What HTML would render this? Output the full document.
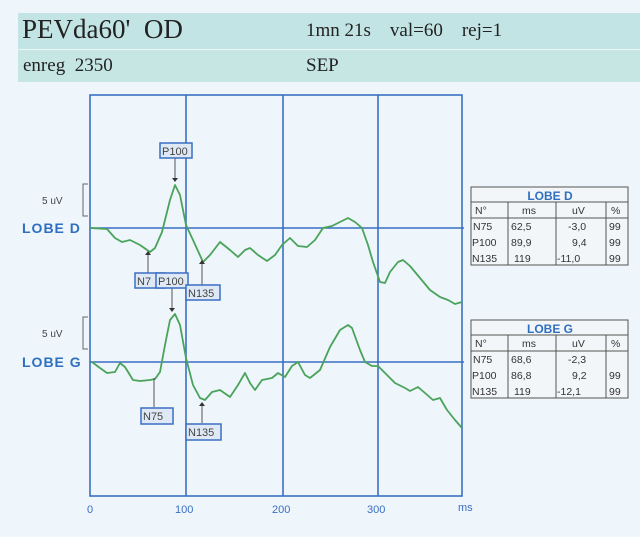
<!DOCTYPE html>
<html><head><meta charset="utf-8"><style>
html,body{margin:0;padding:0;background:#eef5fb;}
body{width:640px;height:537px;position:relative;overflow:hidden;font-family:"Liberation Serif",serif;}
.band{position:absolute;left:18px;width:622px;background:#bfe2e2;}
.t{position:absolute;color:#222;}
</style></head><body>
<div class="band" style="top:13px;height:36px;background:#c2e4e4"></div>
<div class="band" style="top:50px;height:32px;background:#c6e6e4"></div>
<div class="t" style="left:22px;top:14px;font-size:27px">PEVda60'&nbsp; OD</div>
<div class="t" style="left:306px;top:20px;font-size:19px">1mn 21s&nbsp;&nbsp;&nbsp; val=60&nbsp;&nbsp;&nbsp; rej=1</div>
<div class="t" style="left:23px;top:55px;font-size:19px">enreg&nbsp; 2350</div>
<div class="t" style="left:306px;top:55px;font-size:19px">SEP</div>
<svg width="640" height="537" style="position:absolute;left:0;top:0" font-family="Liberation Sans, sans-serif">
<g stroke="#3a6fc4" stroke-width="1.6" fill="none">
<rect x="90" y="95" width="372" height="401"/>
<line x1="186" y1="95" x2="186" y2="496"/><line x1="283" y1="95" x2="283" y2="496"/><line x1="378" y1="95" x2="378" y2="496"/>
<line x1="90" y1="228" x2="464" y2="228"/><line x1="90" y1="362" x2="464" y2="362"/>
</g>
<g fill="#3a6fc4" font-size="11"><text x="87" y="513">0</text><text x="175" y="513">100</text><text x="272" y="513">200</text><text x="367" y="513">300</text><text x="458" y="511">ms</text></g>
<g fill="#2f6fc0" font-size="14" font-weight="bold" letter-spacing="1"><text x="22" y="233">LOBE D</text><text x="22" y="367">LOBE G</text></g>
<g fill="#444" font-size="10"><text x="42" y="204">5 uV</text><text x="42" y="337">5 uV</text></g>
<g stroke="#666" fill="none" stroke-width="1"><path d="M88 184H83V216H88"/><path d="M88 317H83V349H88"/></g>
<g fill="none" stroke="#4aa35a" stroke-width="1.8" stroke-linejoin="round">
<polyline points="90,228 107,229 115,238 122,242 130,240 140,245 150,252 155,248 162,232 170,200 175,185 180,195 186,225 193,240 203,262 210,255 220,242 230,250 238,257 245,250 250,248 258,255 267,261 275,255 282,245 290,238 298,246 307,247 315,240 323,228 332,226 340,222 348,218 355,222 362,228 368,245 373,262 380,282 385,283 390,272 398,262 403,260 410,266 420,278 430,290 440,297 448,300 455,304 462,302"/>
<polyline points="92,362 100,368 107,373 115,372 120,363 125,367 133,380 140,381 150,380 155,379 160,372 165,345 170,320 175,314 180,325 186,358 193,385 200,398 205,400 212,392 220,390 230,397 238,385 245,373 250,383 255,390 262,380 272,378 278,373 285,377 292,366 298,362 305,375 310,378 320,370 330,347 340,330 348,325 352,328 360,350 365,362 372,366 378,366 385,373 395,383 405,388 410,391 418,387 425,393 433,400 440,398 447,410 455,420 462,428"/>
</g>
<g stroke="#555" stroke-width="1" fill="none">
<line x1="175" y1="158" x2="175" y2="178"/><line x1="148" y1="255" x2="148" y2="273"/><line x1="202" y1="264" x2="202" y2="285"/>
<line x1="172" y1="288" x2="172" y2="308"/><line x1="154" y1="378" x2="154" y2="407"/><line x1="202" y1="406" x2="202" y2="423"/>
</g>
<g fill="#333"><path d="M172 178h6l-3 4z"/><path d="M145 255h6l-3-4z"/><path d="M199 264h6l-3-4z"/><path d="M169 308h6l-3 4z"/><path d="M199 406h6l-3-4z"/></g>
<g fill="#dfe9f5" stroke="#3a6fc4" stroke-width="1.5">
<rect x="160" y="143" width="32" height="15"/><rect x="135" y="273" width="30" height="15"/><rect x="156" y="273" width="32" height="15"/>
<rect x="186" y="285" width="34" height="15"/><rect x="141" y="408" width="32" height="16"/><rect x="186" y="424" width="35" height="16"/>
</g>
<g fill="#444" font-size="11"><text x="162" y="155">P100</text><text x="137" y="285">N7</text><text x="158" y="285">P100</text><text x="188" y="297">N135</text><text x="143" y="420">N75</text><text x="188" y="436">N135</text></g>
<g id="td">
<g fill="#f3f6f8" stroke="#555" stroke-width="1"><rect x="471" y="187" width="157" height="78"/></g>
<g stroke="#555" stroke-width="1"><line x1="471" y1="202" x2="628" y2="202"/><line x1="471" y1="218" x2="628" y2="218"/>
<line x1="508" y1="202" x2="508" y2="265"/><line x1="556" y1="202" x2="556" y2="265"/><line x1="606" y1="202" x2="606" y2="265"/></g>
</g>
<use href="#td" y="133"/>
<g font-size="12" fill="#2f6fc0" font-weight="bold" text-anchor="middle"><text x="550" y="200">LOBE D</text><text x="550" y="333">LOBE G</text></g>
<g font-size="10.5" fill="#333">
<text x="475" y="214">N°</text><text x="522" y="214">ms</text><text x="572" y="214">uV</text><text x="611" y="214">%</text>
<text x="473" y="230">N75</text><text x="511" y="230">62,5</text><text x="568" y="230">-3,0</text><text x="609" y="230">99</text>
<text x="472" y="246">P100</text><text x="511" y="246">89,9</text><text x="572" y="246">9,4</text><text x="609" y="246">99</text>
<text x="472" y="262">N135</text><text x="514" y="262">119</text><text x="557" y="262">-11,0</text><text x="609" y="262">99</text>
<text x="475" y="347">N°</text><text x="522" y="347">ms</text><text x="572" y="347">uV</text><text x="611" y="347">%</text>
<text x="473" y="363">N75</text><text x="511" y="363">68,6</text><text x="568" y="363">-2,3</text>
<text x="472" y="379">P100</text><text x="511" y="379">86,8</text><text x="572" y="379">9,2</text><text x="609" y="379">99</text>
<text x="472" y="395">N135</text><text x="514" y="395">119</text><text x="557" y="395">-12,1</text><text x="609" y="395">99</text>
</g>
</svg>
</body></html>
